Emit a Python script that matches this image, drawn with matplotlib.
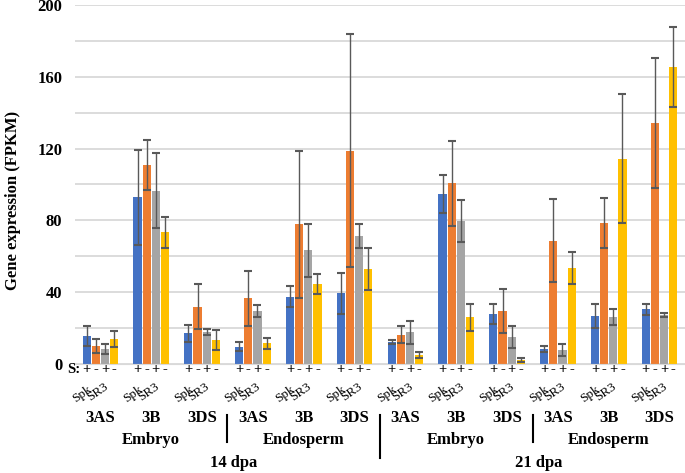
import numpy as np
import matplotlib
matplotlib.use('Agg')
import matplotlib.pyplot as plt

plt.rcParams['font.family'] = ['Liberation Serif', 'DejaVu Serif']

genes = ['3AS', '3B', '3DS'] * 4
tissues = ['Embryo', 'Endosperm', 'Embryo', 'Endosperm']
stages = ['14 dpa', '21 dpa']

# Spk S+ (blue), Spk S- (orange), SR3 S+ (gray), SR3 S- (yellow)
spk_plus = [15.5, 92.8, 17.0, 9.7, 37.5, 39.4, 12.4, 94.7, 27.9, 8.4, 26.7, 30.5]
spk_minus = [10.0, 110.9, 32.0, 36.6, 77.8, 118.8, 16.2, 100.8, 29.5, 68.7, 78.7, 134.1]
sr3_plus = [8.5, 96.5, 18.0, 29.5, 63.3, 71.5, 17.7, 79.8, 14.9, 7.8, 26.0, 27.3]
sr3_minus = [14.0, 73.4, 13.4, 11.5, 44.7, 52.8, 5.0, 26.0, 2.2, 53.7, 114.4, 165.3]

spk_plus_err = [5.4, 26.5, 4.6, 2.3, 5.8, 11.3, 1.0, 10.7, 5.5, 1.6, 6.7, 3.0]
spk_minus_err = [4.0, 13.8, 12.4, 15.4, 40.8, 64.8, 4.7, 23.7, 12.2, 23.2, 13.8, 36.3]
sr3_plus_err = [2.8, 21.0, 1.6, 3.3, 14.9, 6.6, 6.3, 11.6, 6.0, 3.3, 4.4, 1.2]
sr3_minus_err = [4.4, 8.5, 5.5, 3.1, 5.7, 11.7, 1.9, 7.5, 1.1, 8.9, 35.8, 22.3]

signs = ['+', '-', '+', '-']
colors = ['#4472C4', '#ED7D31', '#A5A5A5', '#FFC000']

fig = plt.figure(figsize=(6.85, 4.73), dpi=100)
ax = fig.add_axes([75/685, 1 - 364/473, 610/685, 359/473])

x = np.arange(len(genes))
offsets = [-0.27, -0.09, 0.09, 0.27]
series = [spk_plus, spk_minus, sr3_plus, sr3_minus]
errs = [spk_plus_err, spk_minus_err, sr3_plus_err, sr3_minus_err]
for vals, err, c, off in zip(series, errs, colors, offsets):
    ax.bar(x + off, vals, width=0.16, color=c, zorder=2)
    ax.errorbar(x + off, vals, yerr=err, fmt='none', ecolor='#595959',
                elinewidth=1, capsize=3, capthick=1.5, zorder=3)

ax.set_xlim(-0.5, 11.5)
ax.set_ylim(0, 200)
ax.set_yticks(np.arange(0, 201, 20))
ax.set_yticklabels([str(v) if v % 40 == 0 else '' for v in range(0, 201, 20)],
                   fontsize=12, fontweight='bold')
ax.tick_params(axis='y', length=0, pad=9)
ax.set_xticks([])
ax.grid(axis='y', color='#d9d9d9', linewidth=1.3, zorder=0)
ax.set_axisbelow(True)
for s in ['top', 'right', 'left']:
    ax.spines[s].set_visible(False)
ax.spines['bottom'].set_color('#d9d9d9')

fig.text(13/685, 1 - 200/473, 'Gene expression (FPKM)', rotation=90,
         ha='center', va='center', fontsize=12, fontweight='bold')

tr = ax.get_xaxis_transform()
ax.text(-0.53, -0.016, 'S:', transform=tr, ha='center', va='center',
        fontsize=10.5, fontweight='bold', clip_on=False)
for i in x:
    for off, sg in zip(offsets, signs):
        ax.text(i + off, -0.016, sg, transform=tr, ha='center', va='center',
                fontsize=10.5, fontweight='bold', clip_on=False)
    ax.text(i - 0.36, -0.084, 'Spk', transform=tr, ha='center', va='center',
            fontsize=9.5, rotation=35, clip_on=False)
    ax.text(i - 0.06, -0.078, 'SR3', transform=tr, ha='center', va='center',
            fontsize=9.5, rotation=35, clip_on=False)
    ax.text(i, -0.150, genes[i], transform=tr, ha='center', va='center',
            fontsize=12, fontweight='bold', clip_on=False)

for k, t in enumerate(tissues):
    ax.text(1 + 3 * k, -0.212, t, transform=tr, ha='center', va='center',
            fontsize=12, fontweight='bold', clip_on=False)
for k, st in enumerate(stages):
    ax.text(2.62 + 6 * k, -0.276, st, transform=tr, ha='center', va='center',
            fontsize=12, fontweight='bold', clip_on=False)

for xs, y1 in [(2.5, -0.217), (5.5, -0.262), (8.5, -0.217)]:
    ax.plot([xs, xs], [-0.142, y1], transform=tr, color='black',
            linewidth=1.5, clip_on=False)

fig.savefig('out.png', dpi=100)
